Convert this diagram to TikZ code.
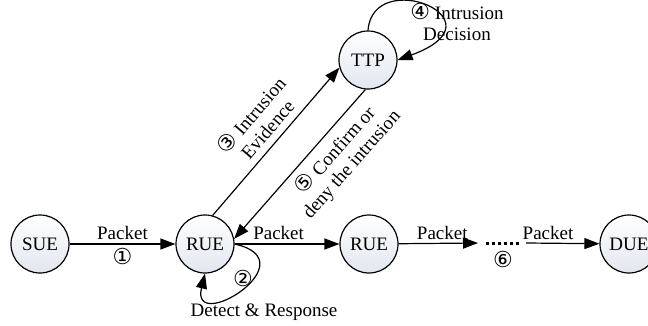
\documentclass[tikz,border=0pt]{standalone}
\usepackage{fontspec}
\setmainfont{Liberation Serif}
\newfontfamily\circfont{DejaVu Sans}
\usetikzlibrary{positioning,calc,arrows.meta}

\definecolor{nodegray}{RGB}{226,230,238}
\newcommand{\cnum}[1]{{\circfont\fontsize{22}{20}\selectfont #1}}

\tikzset{
    ue/.style={circle, draw, line width=1.2pt, minimum size=58pt, inner sep=0pt,
        top color=white, bottom color=nodegray},
    pkt/.style={line width=1.2pt, -{Triangle[length=15pt,width=11pt]}},
    dots/.style={line width=3pt, dash pattern=on 3pt off 3pt},
    every node/.style={font=\fontsize{19}{21}\selectfont}
}

\begin{document}
\begin{tikzpicture}[x=1pt,y=1pt]
    \useasboundingbox (0,0) rectangle (648,325);

    % Nodes
    \node[ue] (sue) at (40,81) {SUE};
    \node[ue] (rue1) at (205,81) {RUE};
    \node[ue] (rue2) at (369,81) {RUE};
    \node[ue] (due) at (629,81) {DUE};
    \node[ue] (ttp) at (368,265) {TTP};

    % Forwarding chain
    \draw[pkt] (sue) -- node[above] {Packet} node[below] {\cnum{①}} (rue1);
    \draw[pkt] (rue1) -- node[above, pos=0.42] {Packet} (rue2);
    \coordinate (gapL) at (478,82);
    \coordinate (dotA) at (486,82);
    \coordinate (dotB) at (520,82);
    \coordinate (gapR) at (526,82);
    \draw[pkt] (rue2) -- node[above, pos=0.55] {Packet} (gapL);
    \draw[dots] (dotA) -- node[below=3pt] {\cnum{⑥}} (dotB);
    \draw[pkt] (gapR) -- node[above, pos=0.3] {Packet} (due);

    % Detection loop at the relay
    \draw[pkt] (rue1.east) .. controls +(76,-17) and +(-15,-62) .. (rue1.south);
    \node (n2) at (243,47) {\cnum{②}};
    \node (detect) at (264,13) {Detect \& Response};

    % Reporting to the TTP and back
    \draw[pkt] (rue1.75) -- node[sloped, above, align=center, inner sep=7pt, pos=0.52]
        {\cnum{③} Intrusion\\Evidence} (ttp.195);
    \draw[pkt] (ttp.-95) -- node[sloped, below, align=center, inner sep=7pt, pos=0.33]
        {\cnum{⑤} Confirm or\\deny the intrusion} (rue1.10);

    % Decision loop at the TTP
    \draw[pkt] (ttp.north) .. controls +(5,65) and +(110,40) .. (ttp.east);
    \node[align=center] (decide) at (457,303) {\cnum{④} Intrusion\\Decision};
\end{tikzpicture}
\end{document}
